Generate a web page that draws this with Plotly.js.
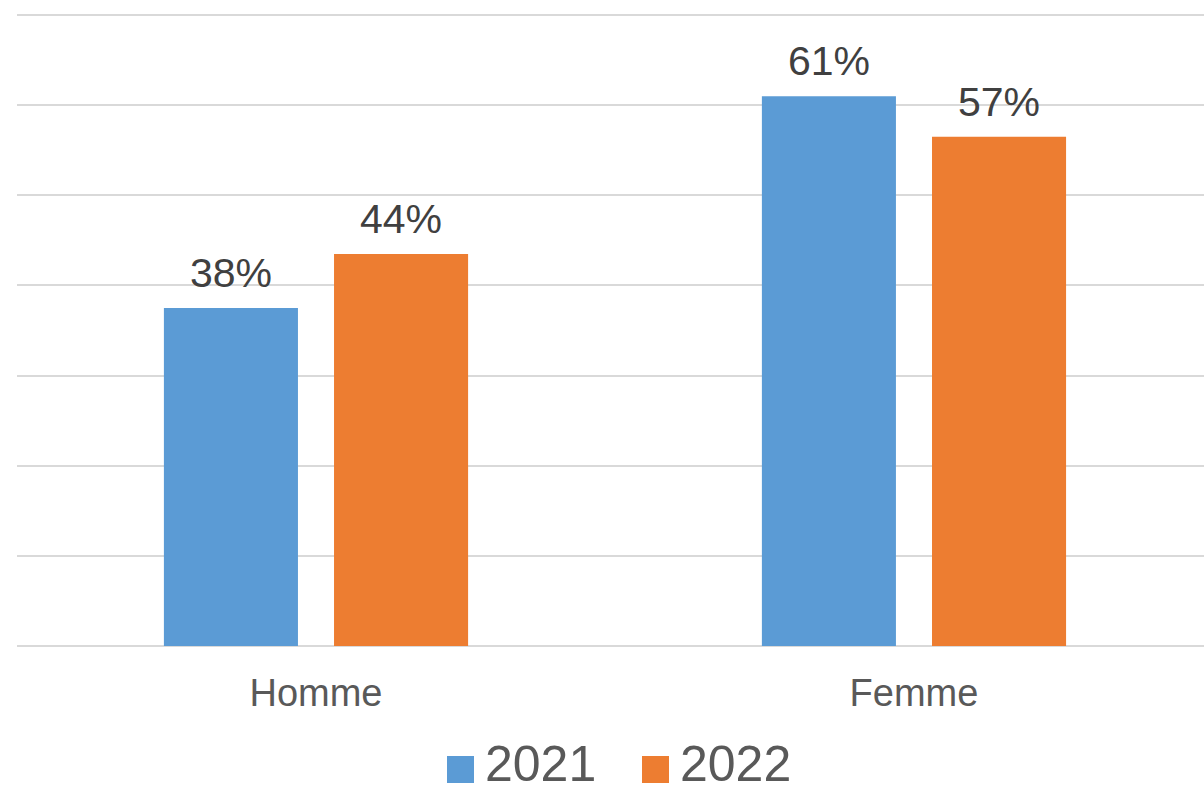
<!DOCTYPE html>
<html><head><meta charset="utf-8">
<script src="https://cdn.plot.ly/plotly-3.0.1.min.js"></script>
<style>html,body{margin:0;padding:0;background:#fff}#c{width:1204px;height:792px}</style>
</head><body><div id="c"></div>
<script>
const categories = ["Homme", "Femme"];
const seriesNames = ["2021", "2022"];
const values2021 = [37.5, 61.0];
const values2022 = [43.5, 56.5];
const labels2021 = ["38%", "61%"];
const labels2022 = ["44%", "57%"];
const colors = ["#5B9BD5", "#ED7D31"];

const allValues = [values2021, values2022];
const allLabels = [labels2021, labels2022];
const traces = allValues.map((v, i) => ({
  type: "bar", x: categories, y: v, name: seriesNames[i],
  marker: {color: colors[i]}, showlegend: false, hoverinfo: "none"
}));

const L = 17, T = 12, W = 1187, H = 634;
const annotations = [];
const offsets = [-85, 85];
allValues.forEach((v, i) => {
  v.forEach((val, j) => {
    annotations.push({
      x: categories[j], y: val, xref: "x", yref: "y",
      text: allLabels[i][j], showarrow: false, xshift: offsets[i], yshift: 10,
      yanchor: "bottom", font: {family: "Liberation Sans, Arial", size: 41, color: "#404040"}
    });
  });
});
// custom legend
const legendX = [488, 683];
const shapes = [];
const px = x => (x - L) / W;
const py = y => (T + H - y) / H;
seriesNames.forEach((n, i) => {
  annotations.push({
    x: px(legendX[i] - 4), y: py(764), xref: "paper", yref: "paper",
    text: n, showarrow: false, xanchor: "left", yanchor: "middle", borderpad: 0,
    font: {family: "Liberation Sans, Arial", size: 50, color: "#595959"}
  });
  shapes.push({
    type: "rect", xref: "paper", yref: "paper",
    x0: px(legendX[i] - 41), x1: px(legendX[i] - 14),
    y0: py(783), y1: py(756),
    fillcolor: colors[i], line: {width: 0}
  });
});

const layout = {
  width: 1204, height: 792,
  margin: {l: L, r: 0, t: T, b: 146},
  paper_bgcolor: "#fff", plot_bgcolor: "#fff",
  barmode: "group", bargap: 0.431, bargroupgap: 0.212,
  showlegend: false,
  xaxis: {
    range: [-0.5, 1.485],
    tickfont: {family: "Liberation Sans, Arial", size: 38, color: "#595959"},
    showgrid: false, showline: false, ticks: "", ticklabelstandoff: 21
  },
  yaxis: {
    range: [0, 70.333], dtick: 10, showticklabels: false,
    showgrid: true, gridcolor: "#d9d9d9", gridwidth: 2,
    zeroline: true, zerolinecolor: "#d9d9d9", zerolinewidth: 2
  },
  annotations: annotations, shapes: shapes,
  font: {family: "Liberation Sans, Arial"}
};
Plotly.newPlot("c", traces, layout, {displayModeBar: false, staticPlot: true});
</script></body></html>
